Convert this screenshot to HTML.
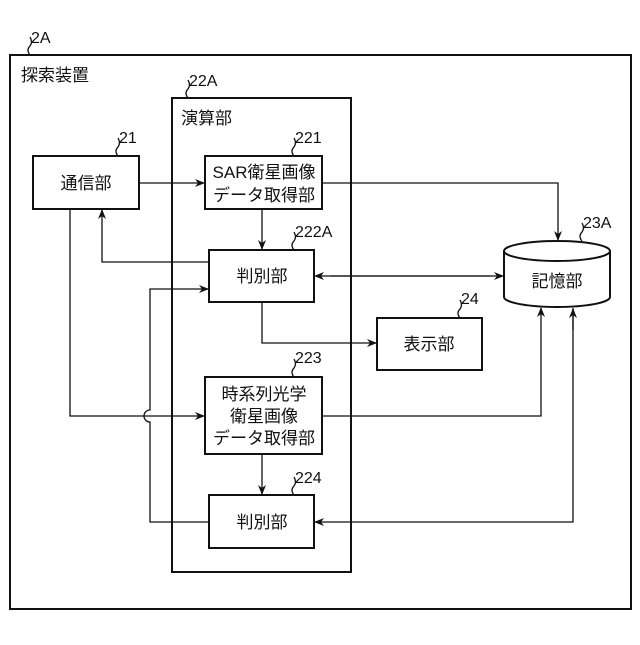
<!DOCTYPE html>
<html><head><meta charset="utf-8"><style>
body{margin:0;background:#fff}
svg text{font-family:"Liberation Sans","Noto Sans CJK JP",sans-serif;font-size:16px;fill:#111}
svg .b{font-size:17px}
</style></head><body>
<svg width="640" height="640" viewBox="0 0 640 640" xmlns="http://www.w3.org/2000/svg">
<defs><marker id="a" markerWidth="10" markerHeight="8" refX="9" refY="4" orient="auto" markerUnits="userSpaceOnUse"><path d="M0,0 L10,4 L0,8 L3,4 z" fill="#111"/></marker></defs>
<g fill="none" stroke="#111" stroke-width="2">
<rect x="10" y="55" width="621" height="554"/>
<rect x="172" y="98" width="179" height="474"/>
<rect x="33" y="156" width="106" height="53" fill="#fff"/>
<rect x="205" y="156" width="117" height="53" fill="#fff"/>
<rect x="209" y="250" width="105" height="52" fill="#fff"/>
<rect x="377" y="318" width="105" height="52"/>
<rect x="205" y="377" width="117" height="77" fill="#fff"/>
<rect x="209" y="495" width="105" height="53" fill="#fff"/>
<path d="M504,251 V297 A53,10 0 0 0 610,297 V251 A53,10 0 0 0 504,251 A53,10 0 0 0 610,251"/>
</g>
<g fill="none" stroke="#111" stroke-width="1.3">
<path d="M139,183 H204" marker-end="url(#a)"/>
<path d="M322,183 H558 V240" marker-end="url(#a)"/>
<path d="M262,209 V249" marker-end="url(#a)"/>
<path d="M209,262 H102 V210" marker-end="url(#a)"/>
<path d="M330,276 H503" marker-end="url(#a)"/>
<path d="M490,276 H315" marker-end="url(#a)"/>
<path d="M209,522 H150 V422 A6,6 0 0 1 150,410 V289 H208" marker-end="url(#a)"/>
<path d="M262,302 V343 H376" marker-end="url(#a)"/>
<path d="M70,209 V416 H204" marker-end="url(#a)"/>
<path d="M322,416 H541 V308" marker-end="url(#a)"/>
<path d="M262,454 V494" marker-end="url(#a)"/>
<path d="M573,308 V522 H315" marker-end="url(#a)"/>
<path d="M573,330 V309" marker-end="url(#a)"/>
<path d="M30,55 q-4,-5 0,-9 q3,-4 0,-9 M188,98 q-4,-5 0,-9 q3,-4 0,-9 M118,156 q-4,-5 0,-9 q3,-4 0,-9 M294,156 q-4,-5 0,-9 q3,-4 0,-9 M294,250 q-4,-5 0,-9 q3,-4 0,-9 M582,241 q-4,-5 0,-9 q3,-4 0,-9 M460,318 q-4,-5 0,-9 q3,-4 0,-9 M294,377 q-4,-5 0,-9 q3,-4 0,-9 M294,495 q-4,-5 0,-9 q3,-4 0,-9"/>
</g>
<text x="31" y="43">2A</text>
<text class="b" x="21" y="81">探索装置</text>
<text x="189" y="86">22A</text>
<text class="b" x="181" y="124">演算部</text>
<text x="119" y="143">21</text>
<text x="295" y="143">221</text>
<text x="295" y="237">222A</text>
<text x="583" y="228">23A</text>
<text x="461" y="304">24</text>
<text x="295" y="363">223</text>
<text x="295" y="483">224</text>
<g text-anchor="middle" class="b">
<text class="b" x="86" y="189">通信部</text>
<text class="b" x="264" y="178">SAR衛星画像</text>
<text class="b" x="264" y="201">データ取得部</text>
<text class="b" x="262" y="282">判別部</text>
<text class="b" x="557" y="287">記憶部</text>
<text class="b" x="429" y="350">表示部</text>
<text class="b" x="264" y="400">時系列光学</text>
<text class="b" x="264" y="422">衛星画像</text>
<text class="b" x="264" y="444">データ取得部</text>
<text class="b" x="262" y="528">判別部</text>
</g>
</svg>
</body></html>
